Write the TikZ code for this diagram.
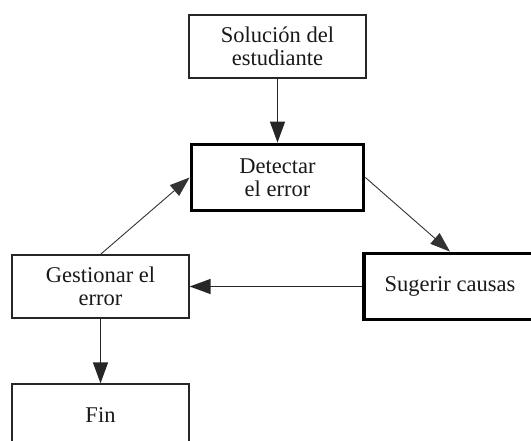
\documentclass[tikz,border=0pt]{standalone}
\usepackage{fontspec}
\setmainfont{Liberation Serif}
\usetikzlibrary{arrows.meta}
\begin{document}
\begin{tikzpicture}[x=1pt,y=-1pt,
  every node/.style={font=\fontsize{22.5}{23.5}\selectfont, align=center, text=black!90},
  thinbox/.style={draw=black!85, line width=1.3pt, rectangle},
  thickbox/.style={draw=black, line width=3.8pt, rectangle},
  conn/.style={draw=black!85, line width=1.4pt, -{Triangle[length=21pt,width=15pt]}},
  diagconn/.style={draw=black!80, line width=0.9pt, -{Triangle[length=20pt,width=14pt]}}]
\useasboundingbox (0,0) rectangle (531,441);
\clip (0,0) rectangle (531,441);
\node[thinbox, minimum width=177pt, minimum height=63pt] (sol) at (277.5,46.5) {Solución del\\estudiante};
\node[thickbox, minimum width=172pt, minimum height=66pt] (det) at (277.5,177.5) {Detectar\\el error};
\node[thinbox, minimum width=177pt, minimum height=63pt] (ges) at (100.5,286.5) {Gestionar el\\error};
\node[thickbox, minimum width=172pt, minimum height=66pt] (sug) at (450,286.5) {Sugerir causas};
\node[thinbox, minimum width=177pt, minimum height=63pt] (fin) at (100.5,415.5) {Fin};
\draw[conn] (sol.south) -- (det.north);
\draw[diagconn] (det.east) -- (sug.north);
\draw[conn] (sug.west) -- (ges.east);
\draw[diagconn] (ges.north) -- (det.west);
\draw[conn] (ges.south) -- (fin.north);
\end{tikzpicture}
\end{document}
